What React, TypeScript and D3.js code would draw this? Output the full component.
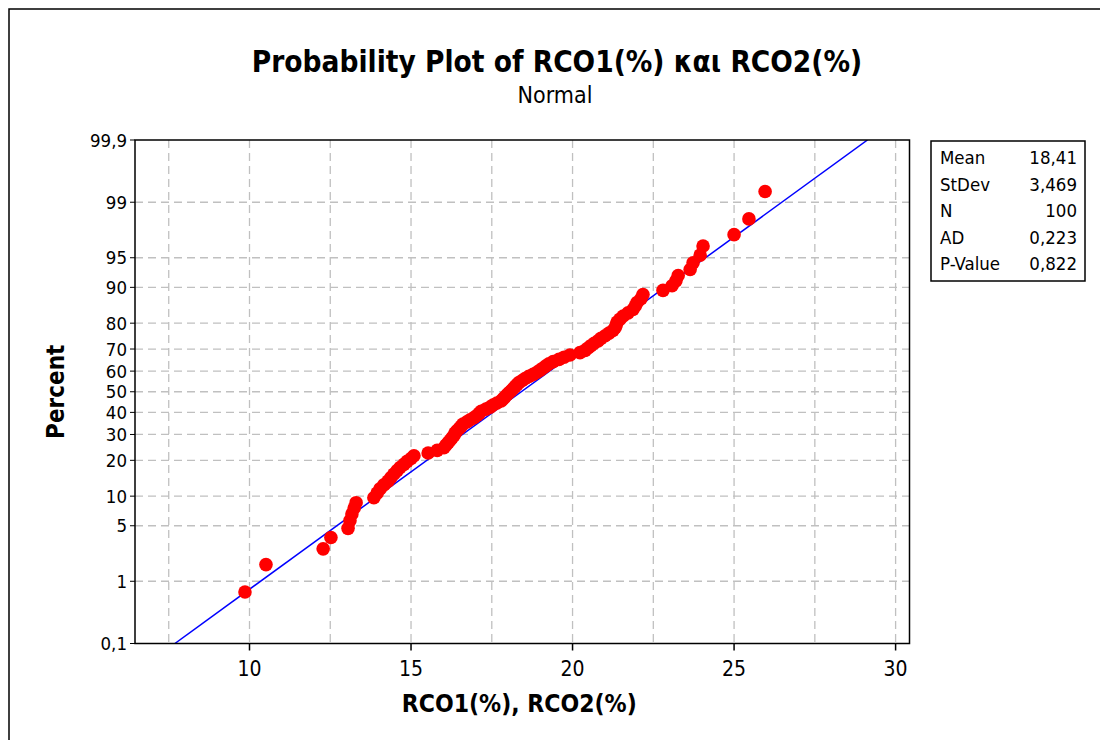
import React from "react";
import * as d3 from "d3";

const title = "Probability Plot of RCO1(%) και RCO2(%)";
const subtitle = "Normal";
const xLabel = "RCO1(%), RCO2(%)";
const yLabel = "Percent";

const values: number[] = [
  9.86, 10.51, 12.28, 12.52, 13.05, 13.11, 13.17, 13.24, 13.3, 13.85,
  13.95, 14.04, 14.16, 14.29, 14.38, 14.47, 14.57, 14.66, 14.78, 14.88,
  15.0, 15.09, 15.53, 15.81, 16.02, 16.08, 16.15, 16.21, 16.27, 16.33,
  16.36, 16.42, 16.49, 16.55, 16.61, 16.73, 16.83, 16.95, 17.04, 17.11,
  17.17, 17.32, 17.45, 17.54, 17.66, 17.79, 17.85, 17.91, 17.97, 18.03,
  18.1, 18.16, 18.22, 18.28, 18.34, 18.44, 18.53, 18.65, 18.78, 18.9,
  19.0, 19.09, 19.18, 19.27, 19.4, 19.58, 19.74, 19.92, 20.23, 20.39,
  20.48, 20.57, 20.67, 20.79, 20.88, 21.01, 21.13, 21.25, 21.32, 21.35,
  21.38, 21.47, 21.57, 21.72, 21.87, 21.94, 22.0, 22.12, 22.18, 22.8,
  23.08, 23.2, 23.27, 23.64, 23.73, 23.95, 24.04, 25.0, 25.46, 25.96,
];

const yTicks: number[] = [0.1, 1, 5, 10, 20, 30, 40, 50, 60, 70, 80, 90, 95, 99, 99.9];
const yTickLabels: string[] = ["0,1", "1", "5", "10", "20", "30", "40", "50", "60", "70", "80", "90", "95", "99", "99,9"];
const xTicks: number[] = [10, 15, 20, 25, 30];
const xGrid: number[] = [7.5, 10, 12.5, 15, 17.5, 20, 22.5, 25, 27.5, 30];

const statLabels: string[] = ["Mean", "StDev", "N", "AD", "P-Value"];
const statValues: string[] = ["18,41", "3,469", "100", "0,223", "0,822"];
const fitMean = 18.41;
const fitSd = 3.469;

// inverse standard normal CDF (Acklam)
function qnorm(p: number): number {
  const a = [-3.969683028665376e1, 2.209460984245205e2, -2.759285104469687e2, 1.38357751867269e2, -3.066479806614716e1, 2.506628277459239];
  const b = [-5.447609879822406e1, 1.615858368580409e2, -1.556989798598866e2, 6.680131188771972e1, -1.328068155288572e1];
  const c = [-7.784894002430293e-3, -3.223964580411365e-1, -2.400758277161838, -2.549732539343734, 4.374664141464968, 2.938163982698783];
  const d = [7.784695709041462e-3, 3.224671290700398e-1, 2.445134137142996, 3.754408661907416];
  const pl = 0.02425;
  let q: number, r: number;
  if (p < pl) {
    q = Math.sqrt(-2 * Math.log(p));
    return (((((c[0] * q + c[1]) * q + c[2]) * q + c[3]) * q + c[4]) * q + c[5]) / ((((d[0] * q + d[1]) * q + d[2]) * q + d[3]) * q + 1);
  } else if (p <= 1 - pl) {
    q = p - 0.5;
    r = q * q;
    return ((((((a[0] * r + a[1]) * r + a[2]) * r + a[3]) * r + a[4]) * r + a[5]) * q) / (((((b[0] * r + b[1]) * r + b[2]) * r + b[3]) * r + b[4]) * r + 1);
  } else {
    q = Math.sqrt(-2 * Math.log(1 - p));
    return -(((((c[0] * q + c[1]) * q + c[2]) * q + c[3]) * q + c[4]) * q + c[5]) / ((((d[0] * q + d[1]) * q + d[2]) * q + d[3]) * q + 1);
  }
}

const W = 1100;
const H = 740;
const plot = { left: 135, right: 909.5, top: 140, bottom: 643.5 };
const FONT = "Tahoma, 'DejaVu Sans Condensed', 'DejaVu Sans', sans-serif";

export default function App() {
  const x = d3.scaleLinear().domain([10, 30]).range([249.5, 895.6]);
  const zMax = qnorm(0.999);
  const yz = d3.scaleLinear().domain([-zMax, zMax]).range([plot.bottom, plot.top]);
  const y = (pct: number) => yz(qnorm(pct / 100));

  const n = values.length;
  const pts = values.map((v, i) => ({ v, p: ((i + 1 - 0.3) / (n + 0.4)) * 100 }));

  const fitLine = d3.line<number>()
    .x((z) => x(fitMean + fitSd * z))
    .y((z) => yz(z));
  const fitZ = [-zMax, zMax];

  const gridStyle = { stroke: "#c0c0c0", strokeWidth: 1.3, strokeDasharray: "8 5" };

  return (
    <svg width={W} height={H} style={{ position: "absolute", left: 0, top: 0, background: "#fff" }} fontFamily={FONT}>
      <rect x={0} y={0} width={W} height={H} fill="#fff" />
      <rect x={9} y={9} width={W + 20} height={H + 20} fill="none" stroke="#000" strokeWidth={1.5} />

      <text x={557} y={72} textAnchor="middle" fontSize={29.5} fontWeight="bold" fill="#000">{title}</text>
      <text x={555} y={103} textAnchor="middle" fontSize={23} fill="#000">{subtitle}</text>

      <defs>
        <clipPath id="plotclip">
          <rect x={plot.left} y={plot.top} width={plot.right - plot.left} height={plot.bottom - plot.top} />
        </clipPath>
      </defs>

      {/* grid */}
      {xGrid.map((g) => (
        <line key={"gx" + g} x1={x(g)} x2={x(g)} y1={plot.top} y2={plot.bottom} {...gridStyle} />
      ))}
      {yTicks.slice(1, -1).map((t) => (
        <line key={"gy" + t} x1={plot.left} x2={plot.right} y1={y(t)} y2={y(t)} {...gridStyle} />
      ))}

      {/* fitted line */}
      <g clipPath="url(#plotclip)">
        <path d={fitLine(fitZ) || ""} stroke="#0000ff" strokeWidth={1.5} fill="none" />
      </g>

      {/* points */}
      {pts.map((d, i) => (
        <circle key={i} cx={x(d.v)} cy={y(d.p)} r={6.8} fill="#ff0000" />
      ))}

      {/* frame */}
      <rect x={plot.left} y={plot.top} width={plot.right - plot.left} height={plot.bottom - plot.top} fill="none" stroke="#000" strokeWidth={1.5} />

      {/* y ticks */}
      {yTicks.map((t, i) => (
        <g key={"yt" + t}>
          <line x1={plot.left - 5} x2={plot.left} y1={y(t)} y2={y(t)} stroke="#000" strokeWidth={1} />
          <text x={plot.left - 8} y={y(t) + 6.5} textAnchor="end" fontSize={18.5} fill="#000">{yTickLabels[i]}</text>
        </g>
      ))}

      {/* x ticks */}
      {xTicks.map((t) => (
        <g key={"xt" + t}>
          <line x1={x(t)} x2={x(t)} y1={plot.bottom} y2={plot.bottom + 7} stroke="#000" strokeWidth={1.5} />
          <text x={x(t)} y={plot.bottom + 32} textAnchor="middle" fontSize={21} fill="#000">{t}</text>
        </g>
      ))}

      <text x={(plot.left + plot.right) / 2 - 3} y={712} textAnchor="middle" fontSize={24.5} fontWeight="bold" fill="#000">{xLabel}</text>
      <text transform={`translate(64, ${(plot.top + plot.bottom) / 2}) rotate(-90)`} textAnchor="middle" fontSize={24} fontWeight="bold" fill="#000">{yLabel}</text>

      {/* stats box */}
      <rect x={931} y={141} width={154} height={140} fill="#fff" stroke="#000" strokeWidth={1.5} />
      {statLabels.map((l, i) => (
        <g key={l}>
          <text x={940} y={164 + i * 26.5} fontSize={18.5} fill="#000">{l}</text>
          <text x={1077} y={164 + i * 26.5} textAnchor="end" fontSize={18.5} fill="#000">{statValues[i]}</text>
        </g>
      ))}
    </svg>
  );
}
